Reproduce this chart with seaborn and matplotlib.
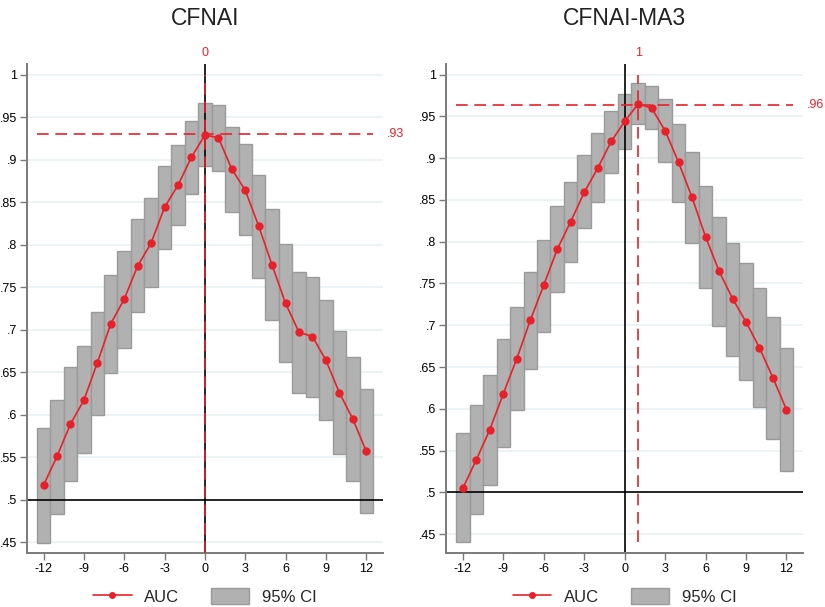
import numpy as np
import pandas as pd
import matplotlib
matplotlib.use("Agg")
import matplotlib.pyplot as plt
import matplotlib.transforms as mtransforms
from matplotlib.patches import Patch
from matplotlib.lines import Line2D
import seaborn as sns

lags = list(range(-12, 13))

auc_cfnai = [0.517, 0.551, 0.589, 0.617, 0.661, 0.707, 0.736, 0.775, 0.802, 0.844, 0.870, 0.903,
             0.929, 0.926, 0.889, 0.864, 0.822, 0.776, 0.731, 0.697, 0.692, 0.664, 0.626, 0.595, 0.557]
hi_cfnai = [0.584, 0.617, 0.656, 0.681, 0.721, 0.764, 0.793, 0.830, 0.855, 0.892, 0.917, 0.945,
            0.967, 0.964, 0.939, 0.918, 0.882, 0.842, 0.801, 0.768, 0.762, 0.735, 0.699, 0.668, 0.630]
lo_cfnai = [0.449, 0.483, 0.522, 0.555, 0.600, 0.649, 0.679, 0.721, 0.750, 0.795, 0.823, 0.860,
            0.893, 0.887, 0.839, 0.811, 0.761, 0.711, 0.662, 0.626, 0.621, 0.594, 0.554, 0.522, 0.484]

auc_ma3 = [0.505, 0.539, 0.575, 0.618, 0.660, 0.706, 0.748, 0.791, 0.824, 0.859, 0.888, 0.920,
           0.944, 0.965, 0.960, 0.933, 0.895, 0.853, 0.806, 0.765, 0.732, 0.704, 0.673, 0.637, 0.599]
hi_ma3 = [0.571, 0.604, 0.640, 0.683, 0.722, 0.764, 0.802, 0.843, 0.872, 0.904, 0.930, 0.957,
          0.977, 0.990, 0.986, 0.971, 0.941, 0.907, 0.867, 0.830, 0.799, 0.774, 0.744, 0.710, 0.673]
lo_ma3 = [0.440, 0.474, 0.509, 0.554, 0.598, 0.648, 0.692, 0.740, 0.776, 0.816, 0.847, 0.882,
          0.911, 0.941, 0.935, 0.896, 0.848, 0.799, 0.745, 0.699, 0.663, 0.634, 0.602, 0.564, 0.525]

titles = ["CFNAI", "CFNAI-MA3"]
best_lag = [0, 1]
best_auc = [0.93, 0.964]
best_auc_label = [".93", ".96"]
yticks = [0.45, 0.5, 0.55, 0.6, 0.65, 0.7, 0.75, 0.8, 0.85, 0.9, 0.95, 1.0]
ytick_labels = [".45", ".5", ".55", ".6", ".65", ".7", ".75", ".8", ".85", ".9", ".95", "1"]
xticks = [-12, -9, -6, -3, 0, 3, 6, 9, 12]

sns.set_theme(style="white")
plt.rcParams["font.family"] = ["Liberation Sans", "DejaVu Sans"]

RED = "#e8202a"
GRAY_FILL = "#b1b1b1"
GRAY_EDGE = "#9a9a9a"
GRID = "#e9f1f3"
SPINE = "#7a7a7a"

fig = plt.figure(figsize=(8.25, 6.07), dpi=100)
positions = [[0.0324, 0.0885, 0.4319, 0.8061], [0.5406, 0.0885, 0.4331, 0.8061]]
ylims = [(0.437, 1.0126), (0.427, 1.0128)]
vmins = [0.437, 0.44]

data = [(auc_cfnai, lo_cfnai, hi_cfnai), (auc_ma3, lo_ma3, hi_ma3)]

for i in range(2):
    ax = fig.add_axes(positions[i])
    auc, lo, hi = data[i]
    df = pd.DataFrame({"lag": lags, "auc": auc, "lo": lo, "hi": hi})
    ax.set_xlim(-13.25, 13.25)
    ax.set_ylim(*ylims[i])
    for yt in yticks:
        if yt != 0.5:
            ax.axhline(yt, color=GRID, lw=1.2, zorder=0)
    ax.bar(df["lag"], df["hi"] - df["lo"], bottom=df["lo"], width=1.0,
           color=GRAY_FILL, edgecolor=GRAY_EDGE, linewidth=1.0, zorder=1)
    ax.axhline(0.5, color="black", lw=1.2, zorder=2)
    ax.axvline(0, color="black", lw=1.2, zorder=2)
    sns.lineplot(data=df, x="lag", y="auc", ax=ax, color=RED, marker="o",
                 markersize=6, markeredgewidth=0, linewidth=1.2, zorder=4, legend=False)
    ax.hlines(best_auc[i], -12.5, 12.5, colors=RED, linestyles=(0, (7, 4)), lw=1.2, zorder=3)
    ax.vlines(best_lag[i], vmins[i], 1.0, colors=RED, linestyles=(0, (7, 4)), lw=1.2, zorder=3)
    trans_x = mtransforms.blended_transform_factory(ax.transData, ax.transAxes)
    trans_y = mtransforms.blended_transform_factory(ax.transAxes, ax.transData)
    ax.text(best_lag[i], 1.01, str(best_lag[i]), transform=trans_x, color=RED,
            fontsize=9, ha="center", va="bottom")
    ax.text(1.01, best_auc[i], best_auc_label[i], transform=trans_y, color=RED,
            fontsize=9, ha="left", va="center")
    ax.set_yticks(yticks)
    ax.set_yticklabels(ytick_labels)
    ax.set_xticks(xticks)
    ax.set_xticklabels([str(x) for x in xticks])
    ax.tick_params(axis="both", labelsize=9, colors="black", length=5, width=1,
                   direction="out", bottom=True, left=True, color=SPINE, pad=2)
    for s in ["top", "right"]:
        ax.spines[s].set_visible(False)
    for s in ["left", "bottom"]:
        ax.spines[s].set_color(SPINE)
        ax.spines[s].set_linewidth(1.4)
    ax.set_xlabel("")
    ax.set_ylabel("")
    ax.set_title(titles[i], fontsize=16.5, pad=28, color="#222222")
    handles = [Line2D([0], [0], color=RED, marker="o", markersize=5, markeredgewidth=0, lw=1.2),
               Patch(facecolor=GRAY_FILL, edgecolor=GRAY_EDGE, lw=1.0)]
    ax.legend(handles, ["AUC", "95% CI"], loc="center", bbox_to_anchor=(0.5, -0.088),
              ncol=2, frameon=False, fontsize=12, handlelength=2.3, handleheight=1.1,
              handletextpad=0.75, columnspacing=1.9)

fig.savefig("out.png", dpi=100)
